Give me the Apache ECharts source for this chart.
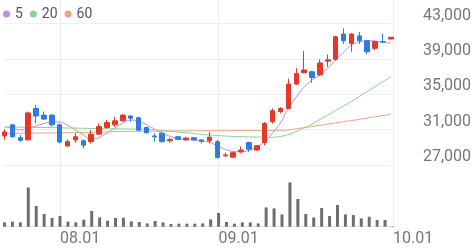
<!DOCTYPE html>
<html><head><meta charset="utf-8">
<script src="https://cdn.jsdelivr.net/npm/echarts@6/dist/echarts.min.js"></script>
<style>html,body{margin:0;padding:0;background:#fff;}#c{width:474px;height:248px;}</style>
</head><body><div id="c"></div>
<script>
const dates = ['07.23','07.24','07.25','07.26','07.29','07.30','07.31',
'08.01','08.04','08.05','08.06','08.07','08.08','08.11','08.12','08.13','08.14','08.18','08.19','08.20','08.21','08.22','08.25','08.26','08.27','08.28','08.29',
'09.01','09.02','09.03','09.04','09.05','09.08','09.09','09.10','09.11','09.12','09.15','09.16','09.17','09.18','09.19','09.22','09.23','09.24','09.25','09.26','09.29','09.30',
'10.01'];
const tickLabels = ['08.01','09.01','10.01'];
const opens  = [30300,31550,30100,29850,33400,32650,32650,31550,29150,29850,29750,29650,30500,31250,31550,32000,32550,32350,31250,30300,30600,29750,30200,29850,30100,29850,29750,29650,28050,27900,28500,29550,28700,29550,31900,33050,33400,36150,37450,37550,37200,38750,38950,41800,40750,41600,41050,40200,40950,41250];
const closes = [30750,30200,29800,32900,32550,32200,31550,29600,29650,30200,29250,30500,31350,31800,32000,32650,32300,30950,30650,30200,29650,29900,29900,30050,29850,29700,30150,27850,28150,28400,28700,28800,29200,31700,33150,33400,36150,37350,37750,36900,38550,38900,41500,41050,41800,41050,39800,40950,40900,41450];
const lows   = [29850,30100,29650,29800,31700,32100,31350,29450,29100,29500,28900,29450,30400,31150,31350,31900,31900,30850,30600,29650,29550,29550,29850,29750,29750,29450,29450,27750,27900,27850,28350,28500,28600,29250,31700,32850,33300,36050,37350,36300,37050,38100,38800,40700,39800,40700,39500,40000,40900,41200];
const highs  = [31050,31650,30400,33050,33800,33050,32750,31700,29900,30600,29900,30950,31700,32100,32450,32750,32650,32450,31350,30600,30750,30100,30300,30200,30200,29900,30750,29850,28400,28500,29100,29650,29250,31850,33400,33550,36750,37950,39900,37650,38950,39500,41600,42450,41900,42050,41150,41050,41850,41450];
const ma5  = [31300,31190,30965,31135,31418,31700,31870,31870,31530,30965,30400,29892,30118,30626,31190,31757,32095,31982,31587,31078,30626,30231,30005,29892,29835,29722,29609,29157,28762,28536,28513,28649,29044,29666,30626,31757,33451,34694,35824,36615,37180,37971,38875,39779,40570,40909,41056,41022,40852,40796];
const ma20 = [31305,31305,31282,31271,31260,31248,31237,31214,31192,31180,31158,31135,31124,31112,31101,31090,31078,31067,31045,30988,30909,30819,30740,30649,30570,30480,30400,30344,30288,30242,30208,30186,30175,30152,30141,30231,30457,30796,31192,31643,32152,32660,33169,33677,34186,34751,35316,35858,36423,36988];
const ma60 = [30570,30581,30593,30604,30615,30626,30638,30649,30660,30672,30683,30706,30728,30751,30773,30796,30807,30819,30830,30841,30853,30853,30864,30864,30875,30875,30886,30886,30886,30898,30898,30898,30898,30898,30920,30943,30965,31101,31237,31372,31496,31632,31767,31903,32039,32175,32321,32457,32592,32739];
const volumes = [43,50,43,393,207,127,87,107,50,43,70,157,93,60,87,90,53,47,33,57,43,27,30,30,30,33,73,137,47,30,43,43,33,193,183,123,443,277,127,93,187,107,217,123,117,83,100,67,67,5];
const yTicks = {min:27000, max:43000, interval:4000};

const UP='#e4382a', DOWN='#2d7de0';
const candle = opens.map((o,i)=>[o, closes[i], lows[i], highs[i]]);
const FONT='Roboto';
const chart = echarts.init(document.getElementById('c'), null, {renderer:'canvas'});
const L = 4.5, R = 81;
chart.setOption({
  animation:false,
  legend:{data:['5','20','60'], left:-2, top:2, icon:'circle', itemWidth:7, itemHeight:7, itemGap:7,
    textStyle:{fontFamily:FONT, fontSize:14, color:'#555'}, selectedMode:false},
  grid:[
    {left:L, right:R, top:23.5, height:141.6},
    {left:L, right:R, top:171.7, height:55},
    {left:L, right:R, top:0, bottom:21.3}
  ],
  xAxis:[
    {type:'category', gridIndex:0, data:dates, boundaryGap:false, show:false},
    {type:'category', gridIndex:1, data:dates, boundaryGap:false, show:false},
    {type:'category', gridIndex:2, data:dates, boundaryGap:false,
      axisLine:{show:true, lineStyle:{color:'#e2e2e2'}}, axisTick:{show:false},
      splitLine:{show:true, interval:(i,v)=>tickLabels.includes(v), lineStyle:{color:'#eeeeee'}},
      axisLabel:{interval:(i,v)=>tickLabels.includes(v), align:'left', margin:4, fontFamily:FONT, fontSize:16, color:'#777'}}
  ],
  yAxis:[
    {type:'value', gridIndex:0, position:'right', min:yTicks.min, max:yTicks.max, interval:yTicks.interval,
      axisLine:{show:false}, axisTick:{show:false},
      splitLine:{lineStyle:{color:'#efefef'}},
      axisLabel:{align:'left', verticalAlign:'bottom', margin:32, fontFamily:FONT, fontSize:16, color:'#777',
        formatter:v=>v.toLocaleString('en-US')}},
    {type:'value', gridIndex:1, min:0, max:550, show:false, splitLine:{show:false}},
    {type:'value', gridIndex:2, show:false, splitLine:{show:false}}
  ],
  series:[
    {name:'5', type:'line', xAxisIndex:0, yAxisIndex:0, data:ma5, showSymbol:false, smooth:0.3,
      lineStyle:{width:1, color:'#c688e0'}, itemStyle:{color:'#c688e0'}, z:3},
    {name:'20', type:'line', xAxisIndex:0, yAxisIndex:0, data:ma20, showSymbol:false, smooth:0.3,
      lineStyle:{width:1, color:'#86d39a'}, itemStyle:{color:'#86d39a'}, z:3},
    {name:'60', type:'line', xAxisIndex:0, yAxisIndex:0, data:ma60, showSymbol:false, smooth:0.3,
      lineStyle:{width:1, color:'#f0a27c'}, itemStyle:{color:'#f0a27c'}, z:3},
    {type:'candlestick', xAxisIndex:0, yAxisIndex:0, data:candle, barWidth:5, clip:false,
      itemStyle:{color:UP, color0:DOWN, borderColor:UP, borderColor0:DOWN, borderWidth:1}, z:4},
    {type:'bar', xAxisIndex:1, yAxisIndex:1, data:volumes, barWidth:3, itemStyle:{color:'#6e6e6e'}}
  ]
});
</script></body></html>
